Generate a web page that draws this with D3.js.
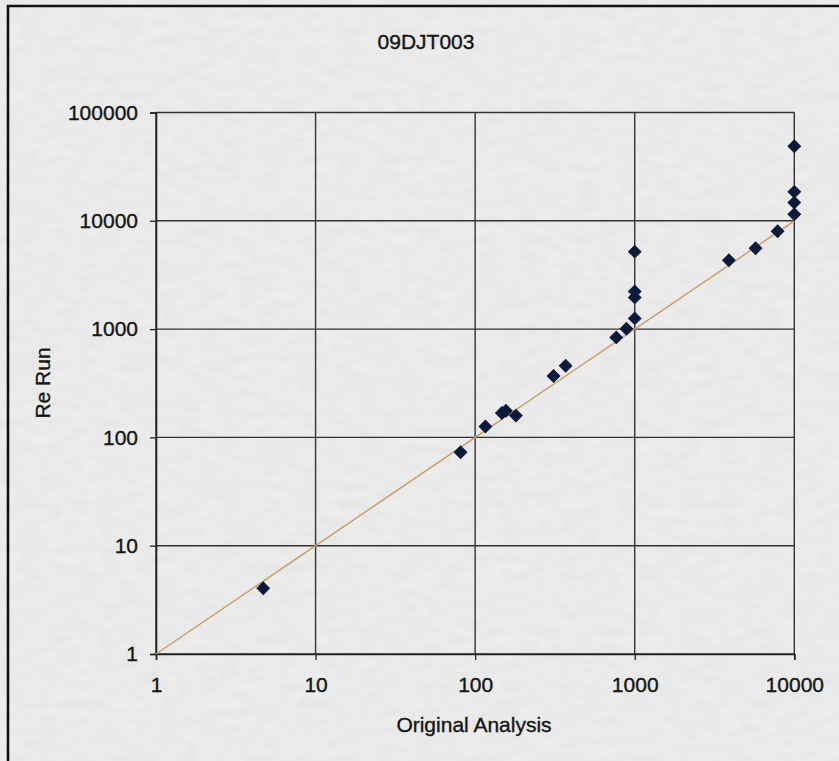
<!DOCTYPE html>
<html>
<head>
<meta charset="utf-8">
<script src="https://cdn.jsdelivr.net/npm/d3@7"></script>
<style>
  html, body { margin: 0; padding: 0; background: #e9e9e9; }
  svg { display: block; }
</style>
</head>
<body>
<div id="chart_div"></div>
<script>
// data
const originalAnalysis = [4.7, 81, 116, 147, 156, 180, 310, 369, 766, 887, 1000, 1000, 1000, 1000, 3890, 5720, 7860, 10000, 10000, 10000, 10000]
const reRun            = [4.05, 73, 126, 168, 176, 159, 369, 459, 838, 1009, 1256, 1963, 2230, 5190, 4316, 5570, 8000, 11490, 14730, 18500, 48850]
const xTicks = [1, 10, 100, 1000, 10000]
const yTicks = [1, 10, 100, 1000, 10000, 100000]
const lineEnds = [1, 10000]   // y = x reference line
const chartTitle = "09DJT003"
const xTitle = "Original Analysis"
const yTitle = "Re Run"

const W = 839, H = 761
const margin = {top: 112.5, right: 44.7, bottom: 107, left: 156},
  width = W - margin.left - margin.right,
  height = H - margin.top - margin.bottom;

const font = "Arial, 'Liberation Sans', sans-serif"
const ink = "#151515"

const root = d3.select("#chart_div")
  .append("svg")
  .attr("width", W)
  .attr("height", H)
  .attr("viewBox", `0 0 ${W} ${H}`)

// scanned paper look
const defs = root.append("defs")
const f = defs.append("filter").attr("id", "grain")
  .attr("x", 0).attr("y", 0).attr("width", "100%").attr("height", "100%")
f.append("feTurbulence").attr("type", "fractalNoise")
  .attr("baseFrequency", "0.05 0.11").attr("numOctaves", 3).attr("seed", 7)
f.append("feColorMatrix").attr("type", "matrix")
  .attr("values", "0 0 0 0 0.6  0 0 0 0 0.6  0 0 0 0 0.6  0 0 0 -1.5 1.0")

root.append("rect").attr("width", W).attr("height", H).attr("fill", "#ececec")
root.append("rect").attr("width", W).attr("height", H)
  .attr("filter", "url(#grain)").style("opacity", 0.22)

// outer chart frame (runs off the right and bottom edges)
root.append("path")
  .attr("d", `M8,${H + 5} L8,6 L${W + 5},6`)
  .attr("fill", "none")
  .attr("stroke", "#111")
  .attr("stroke-width", 2.6)

const svg = root.append("g")
  .attr("transform", `translate(${margin.left},${margin.top})`)

const x = d3.scaleLog()
  .domain([1, 10000])
  .range([0, width])

const y = d3.scaleLog()
  .domain([1, 100000])
  .range([height, 0])

// gridlines
svg.append("g")
  .selectAll("line")
  .data(xTicks)
  .join("line")
  .attr("x1", d => x(d)).attr("x2", d => x(d))
  .attr("y1", 0).attr("y2", height)
  .attr("stroke", "#333")
  .attr("stroke-width", 1.4)

svg.append("g")
  .selectAll("line")
  .data(yTicks)
  .join("line")
  .attr("x1", 0).attr("x2", width)
  .attr("y1", d => y(d)).attr("y2", d => y(d))
  .attr("stroke", "#333")
  .attr("stroke-width", 1.4)

// axes
const xAxis = svg.append("g")
  .attr("transform", `translate(0, ${height})`)
  .call(d3.axisBottom(x).tickValues(xTicks).tickFormat(d3.format("d")).tickSizeOuter(0).tickSize(6).tickPadding(17))
const yAxis = svg.append("g")
  .call(d3.axisLeft(y).tickValues(yTicks).tickFormat(d3.format("d")).tickSizeOuter(0).tickSize(6).tickPadding(12))

;[xAxis, yAxis].forEach(a => {
  a.select(".domain").attr("stroke", "#222").attr("stroke-width", 1.6)
  a.selectAll(".tick line").attr("stroke", "#222").attr("stroke-width", 1.3)
  a.selectAll(".tick text")
    .attr("fill", ink)
    .attr("stroke", ink)
    .attr("stroke-width", 0.35)
    .attr("font-family", font)
    .attr("font-size", 21)
})

// y = x line
svg.append("path")
  .datum(lineEnds)
  .attr("fill", "none")
  .attr("stroke", "#c9a070")
  .attr("stroke-width", 1.5)
  .attr("d", d3.line()
    .x(function(d) { return x(d) })
    .y(function(d) { return y(d) })
  )

// points
const pts = originalAnalysis.map((v, i) => ({x: v, y: reRun[i]}))
svg.append("g")
  .selectAll("path")
  .data(pts)
  .join("path")
  .attr("d", d3.symbol(d3.symbolSquare, 78))
  .attr("transform", d => `translate(${x(d.x)},${y(d.y)}) rotate(45)`)
  .attr("fill", "#0c1a3c")
  .attr("stroke", "#0c1a3c")
  .attr("stroke-width", 1)

// titles
root.append("text")
  .attr("x", 426).attr("y", 49)
  .attr("text-anchor", "middle")
  .attr("font-family", font).attr("font-size", 21)
  .attr("fill", ink).attr("stroke", ink).attr("stroke-width", 0.35)
  .text(chartTitle)

root.append("text")
  .attr("x", 474).attr("y", 732)
  .attr("text-anchor", "middle")
  .attr("font-family", font).attr("font-size", 21)
  .attr("fill", ink).attr("stroke", ink).attr("stroke-width", 0.35)
  .text(xTitle)

root.append("text")
  .attr("transform", "translate(50, 383) rotate(-90)")
  .attr("text-anchor", "middle")
  .attr("font-family", font).attr("font-size", 21)
  .attr("fill", ink).attr("stroke", ink).attr("stroke-width", 0.35)
  .text(yTitle)
</script>
</body>
</html>
